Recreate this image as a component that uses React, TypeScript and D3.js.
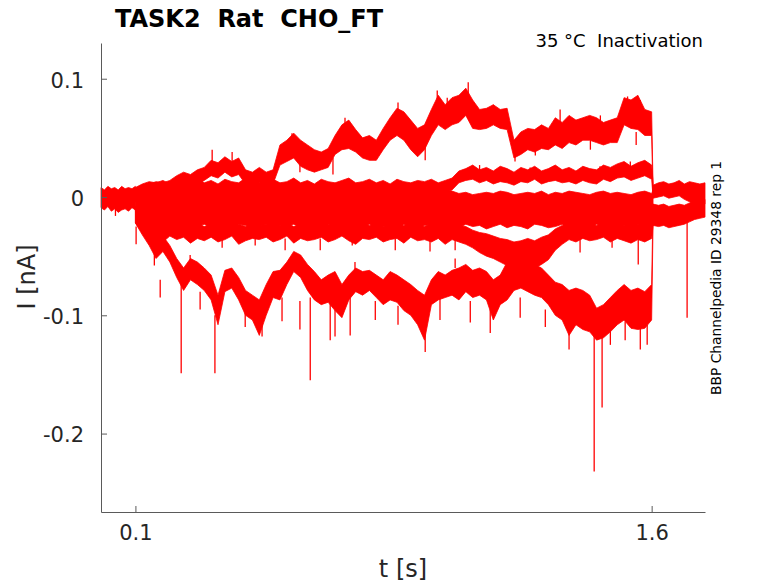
import React, { useEffect, useRef } from 'react';
import * as d3 from 'd3';

const W = 778;
const H = 583;
const X_DOMAIN: [number, number] = [0, 1.755];
const Y_DOMAIN: [number, number] = [-0.2663, 0.1302];
const X_TICKS = [0.1, 1.6];
const X_TICK_LABELS = ['0.1', '1.6'];
const Y_TICKS = [-0.2, -0.1, 0, 0.1];
const Y_TICK_LABELS = ['-0.2', '-0.1', '0', '0.1'];

const TITLE = 'TASK2  Rat  CHO_FT';
const SUBTITLE = '35 °C  Inactivation';
const SIDE_NOTE = 'BBP Channelpedia ID 29348 rep 1';
const X_LABEL = 't [s]';
const Y_LABEL = 'I [nA]';

// currents are stored in pA, plotted in nA
const PA = 0.001;

// sampling grid of the test-pulse segment (s): 0.10, 0.12 ... 1.60, 1.604
const SWEEP_T = [0.1, ...d3.range(75).map((i) => +(0.12 + 0.02 * i).toFixed(3)), 1.604];
// holding segment before the pulse
const PRE_T = d3.range(11).map((i) => +(i * 0.01).toFixed(3));
// segment after the pulse
const POST_T = [1.604, 1.62, 1.635, 1.65, 1.665, 1.68, 1.695, 1.71, 1.725, 1.74, 1.755];

// holding current envelope (pA)
const PRE_HI = [8, 6, 9, 7, 8, 6, 9, 7, 8, 7, 9];
const PRE_LO = [-9, -11, -8, -12, -10, -13, -11, -10, -12, -9, -11];

// dense group of sweeps close to zero (pA)
const CORE_HI = [7, 7, 6, 8, 6, 7, 6, 8, 7, 6, 7, 8, 6, 7, 6, 7, 8, 6, 6, 7, 6, 8, 7, 6, 6, 7, 8, 6, 7, 6, 6, 7, 8, 6, 6, 7, 6, 8, 7, 6, 6, 7, 6, 8, 6, 7, 5, 3, 4, 2, 3, 4, 3, 5, 4, 2, 3, 4, 3, 5, 2, 4, 3, 5, 4, 3, 2, 4, 5, 3, 4, 3, 2, 4, 5, 3, 6];
const CORE_LO = [-12, -23, -25, -24, -26, -23, -25, -27, -24, -25, -23, -26, -24, -25, -27, -23, -24, -26, -25, -23, -27, -24, -25, -23, -26, -24, -27, -25, -23, -26, -24, -25, -27, -24, -23, -26, -25, -24, -27, -23, -25, -26, -24, -23, -25, -27, -24, -26, -23, -25, -24, -27, -25, -23, -26, -24, -25, -27, -23, -24, -26, -25, -23, -27, -24, -25, -26, -23, -24, -27, -25, -24, -26, -23, -25, -27, -22];

// sweep with the largest outward current (pA)
const A_HI = [6, 9, 11, 13, 12, 14, 18, 21, 19, 23, 25, 31, 29, 34, 30, 33, 23, 21, 25, 21, 23, 44, 48, 54, 48, 44, 40, 38, 41, 52, 61, 65, 57, 50, 52, 48, 58, 67, 75, 72, 65, 58, 61, 74, 86, 78, 84, 86, 92, 82, 74, 75, 78, 74, 75, 48, 55, 58, 57, 61, 58, 67, 63, 69, 65, 67, 69, 67, 63, 65, 67, 84, 82, 86, 74, 72, 10];
const A_LO = [-4, -3, -1, 1, 2, 4, 8, 10, 9, 11, 14, 18, 16, 21, 17, 19, 11, 9, 12, 9, 11, 27, 30, 33, 26, 23, 21, 23, 25, 36, 40, 41, 38, 33, 31, 31, 40, 48, 52, 48, 40, 34, 40, 52, 61, 57, 61, 63, 69, 58, 57, 58, 61, 58, 57, 33, 36, 40, 38, 41, 40, 44, 41, 46, 44, 48, 48, 46, 44, 46, 46, 61, 58, 57, 52, 52, 0];

// sweep with a small outward current (pA)
const B_HI = [8, 11, 13, 12, 14, 11, 15, 12, 13, 16, 12, 14, 11, 15, 13, 12, 16, 13, 12, 14, 15, 12, 13, 16, 12, 14, 11, 15, 13, 12, 14, 16, 12, 13, 15, 12, 14, 11, 15, 13, 12, 14, 13, 15, 12, 14, 16, 22, 24, 27, 23, 25, 22, 26, 24, 21, 25, 23, 26, 22, 24, 27, 23, 25, 22, 26, 24, 23, 27, 25, 28, 30, 26, 29, 31, 27, 12];
const B_LO = [2, 3, 4, 2, 5, 3, 4, 5, 3, 6, 4, 3, 2, 5, 4, 3, 6, 4, 2, 5, 4, 3, 5, 4, 3, 5, 2, 4, 5, 3, 4, 5, 2, 4, 5, 3, 4, 2, 5, 3, 4, 5, 2, 4, 3, 5, 6, 12, 14, 15, 12, 14, 11, 13, 12, 10, 13, 12, 15, 11, 13, 14, 12, 13, 11, 14, 12, 11, 15, 13, 16, 17, 14, 16, 18, 15, 0];

// sweep with a small inward current (pA)
const C_HI = [-10, -20, -22, -21, -23, -22, -24, -21, -23, -22, -25, -23, -22, -24, -21, -23, -25, -22, -24, -23, -21, -24, -22, -25, -23, -22, -24, -21, -23, -25, -22, -24, -23, -21, -24, -22, -25, -23, -22, -24, -21, -23, -25, -22, -24, -23, -22, -24, -25, -28, -30, -31, -33, -35, -36, -38, -37, -35, -37, -34, -32, -27, -24, -22, -23, -21, -22, -24, -21, -23, -22, -24, -21, -23, -22, -24, -6];
const C_LO = [-22, -30, -34, -32, -38, -33, -36, -34, -39, -35, -37, -34, -38, -36, -33, -40, -37, -35, -36, -34, -38, -36, -33, -39, -35, -37, -36, -34, -38, -36, -33, -37, -40, -35, -36, -34, -38, -36, -35, -39, -34, -37, -36, -38, -35, -40, -36, -38, -40, -43, -47, -50, -52, -55, -58, -60, -59, -56, -60, -57, -53, -45, -40, -36, -38, -35, -37, -36, -34, -38, -35, -37, -39, -36, -38, -35, -24];

// sweep with the largest inward current (pA)
const D_HI = [-8, -21, -26, -30, -33, -41, -52, -60, -52, -55, -60, -66, -83, -62, -60, -68, -79, -83, -87, -74, -63, -62, -55, -46, -49, -57, -63, -70, -66, -63, -74, -66, -60, -63, -62, -66, -70, -63, -66, -70, -74, -79, -83, -70, -63, -66, -62, -60, -57, -62, -60, -63, -70, -66, -55, -53, -52, -55, -57, -60, -66, -72, -74, -79, -77, -79, -83, -94, -91, -85, -79, -74, -79, -77, -80, -74, -6];
const D_LO = [-22, -32, -41, -52, -46, -55, -68, -79, -70, -74, -79, -87, -108, -80, -77, -87, -100, -104, -117, -100, -85, -87, -74, -63, -68, -79, -87, -91, -89, -96, -102, -87, -80, -83, -79, -85, -91, -87, -89, -96, -100, -108, -121, -91, -87, -85, -83, -87, -80, -85, -83, -87, -104, -91, -87, -79, -77, -80, -83, -85, -91, -100, -104, -117, -108, -112, -114, -121, -119, -114, -108, -104, -111, -112, -111, -104, -24];

// tail currents after the pulse (pA)
const POST_UP_HI = [10, 12, 13, 11, 12, 14, 11, 13, 12, 11, 12];
const POST_UP_LO = [-1, 0, 1, -1, 0, 1, -2, -4, -6, -5, -6];
const POST_DN_HI = [-6, -7, -6, -8, -7, -6, -7, -5, -3, -2, -2];
const POST_DN_LO = [-24, -25, -24, -26, -25, -24, -23, -21, -19, -18, -17];

// brief transients: time (s), start and extreme current (pA)
const SPIKE_T = [
  0.042, 0.102, 0.155, 0.233, 0.331, 0.419, 0.608, 0.68, 0.942, 0.977, 1.067, 1.36, 1.433, 1.456, 1.561, 1.567, 1.703,
  // largest inward sweep
  0.172, 0.288, 0.468, 0.526, 0.578, 0.666, 0.724, 0.797, 0.863, 0.985, 1.073, 1.131, 1.218, 1.291, 1.48, 1.523, 1.587,
  0.259, 0.738, 1.029,
  // largest outward sweep
  0.323, 0.381, 0.555, 0.709, 0.863, 1.006, 1.14, 1.334, 1.451, 1.53, 1.567,
  0.578, 0.674, 0.942, 1.203, 1.262, 1.422, 1.555,
  // small inward sweep
  0.172, 0.352, 0.448, 0.535, 0.637, 0.73, 0.855, 0.956, 1.029, 1.392, 1.485,
  // small outward sweep
  0.23, 1.1, 1.247, 1.45, 1.538,
];
const SPIKE_FROM = [
  -9, -25, -45, -70, -100, -95, -85, -95, -115, 62, 68, -110, -100, -115, -35, -108, -20,
  -70, -80, -95, -85, -88, -90, -85, -88, -92, -85, -88, -95, -85, -95, -110, -105, -108,
  -60, -62, -60,
  25, 28, 45, 55, 70, 70, 68, 60, 60, 75, 75,
  30, 33, 44, 38, 42, 48, 55,
  -32, -34, -34, -35, -35, -34, -35, -36, -36, -34, -35,
  12, 22, 20, 22, 25,
];
const SPIKE_TO = [
  -16, -40, -58, -149, -149, -110, -155, -118, -131, 90, 97, -129, -232, -178, -57, -129, -102,
  -85, -95, -118, -105, -112, -121, -117, -104, -108, -104, -106, -115, -102, -110, -125, -121, -125,
  -49, -55, -52,
  40, 38, 54, 67, 80, 84, 78, 74, 69, 85, 82,
  21, 19, 31, 30, 35, 40, 44,
  -43, -43, -41, -45, -45, -41, -45, -46, -45, -47, -43,
  17, 27, 25, 26, 30,
];

const RED = '#ff0000';
const FONT = '"DejaVu Sans", sans-serif';
const TXT = '#262626';

const M = { left: 101, right: 705, top: 43, bottom: 512 };

function band(t: number[], hi: number[], lo: number[]) {
  return t.map((tt, i) => ({ t: tt, hi: hi[i] * PA, lo: lo[i] * PA }));
}

export default function App() {
  const xAxisRef = useRef<SVGGElement>(null);
  const yAxisRef = useRef<SVGGElement>(null);

  const x = d3.scaleLinear().domain(X_DOMAIN).range([M.left, M.right]);
  const y = d3.scaleLinear().domain(Y_DOMAIN).range([M.bottom, M.top]);

  const area = d3
    .area<{ t: number; hi: number; lo: number }>()
    .x((d) => x(d.t))
    .y0((d) => y(d.lo))
    .y1((d) => y(d.hi));

  const bands = [
    band(PRE_T, PRE_HI, PRE_LO),
    band(SWEEP_T, CORE_HI, CORE_LO),
    band(SWEEP_T, B_HI, B_LO),
    band(SWEEP_T, C_HI, C_LO),
    band(SWEEP_T, D_HI, D_LO),
    band(SWEEP_T, A_HI, A_LO),
    band(POST_T, POST_UP_HI, POST_UP_LO),
    band(POST_T, POST_DN_HI, POST_DN_LO),
  ];

  useEffect(() => {
    const xa = d3
      .axisBottom(x)
      .tickValues(X_TICKS)
      .tickFormat((_d, i) => X_TICK_LABELS[i])
      .tickSizeInner(-6)
      .tickSizeOuter(0)
      .tickPadding(13);
    const ya = d3
      .axisLeft(y)
      .tickValues(Y_TICKS)
      .tickFormat((_d, i) => Y_TICK_LABELS[i])
      .tickSizeInner(-6)
      .tickSizeOuter(0)
      .tickPadding(17);
    const gx = d3.select(xAxisRef.current!);
    gx.call(xa as any);
    const gy = d3.select(yAxisRef.current!);
    gy.call(ya as any);
    [gx, gy].forEach((g) => {
      g.attr('font-family', FONT).attr('font-size', 21);
      g.selectAll('path').attr('stroke', '#5a5a5a');
      g.selectAll('line').attr('stroke', '#5a5a5a');
      g.selectAll('text').attr('fill', TXT);
    });
    gy.selectAll('text').attr('dy', '0.4em');
  }, []);

  const pre = { whiteSpace: 'pre' as const };

  return (
    <svg
      width={W}
      height={H}
      style={{ position: 'absolute', left: 0, top: 0, background: '#fff' }}
    >
      <rect x={0} y={0} width={W} height={H} fill="#fff" />
      <g>
        {bands.map((b, i) => (
          <path key={i} d={area(b) || ''} fill={RED} stroke={RED} strokeWidth={0.8} strokeLinejoin="round" />
        ))}
        {SPIKE_T.map((t, i) => (
          <line
            key={'s' + i}
            x1={x(t)}
            x2={x(t)}
            y1={y(SPIKE_FROM[i] * PA)}
            y2={y(SPIKE_TO[i] * PA)}
            stroke={RED}
            strokeWidth={1.3}
          />
        ))}
      </g>
      <g ref={xAxisRef} transform={`translate(0,${M.bottom})`} />
      <g ref={yAxisRef} transform={`translate(${M.left},0)`} />
      <text x={115} y={27} fontFamily={FONT} fontWeight="bold" fontSize={24} fill="#000" style={pre}>
        {TITLE}
      </text>
      <text x={703} y={47} fontFamily={FONT} fontSize={18} fill="#000" textAnchor="end" style={pre}>
        {SUBTITLE}
      </text>
      <text
        transform="translate(721,395) rotate(-90)"
        fontFamily={FONT}
        fontSize={13.8}
        fill="#000"
      >
        {SIDE_NOTE}
      </text>
      <text x={403} y={577} fontFamily={FONT} fontSize={24} fill={TXT} textAnchor="middle">
        {X_LABEL}
      </text>
      <text
        transform="translate(35,277) rotate(-90)"
        fontFamily={FONT}
        fontSize={24}
        fill={TXT}
        textAnchor="middle"
      >
        {Y_LABEL}
      </text>
    </svg>
  );
}
